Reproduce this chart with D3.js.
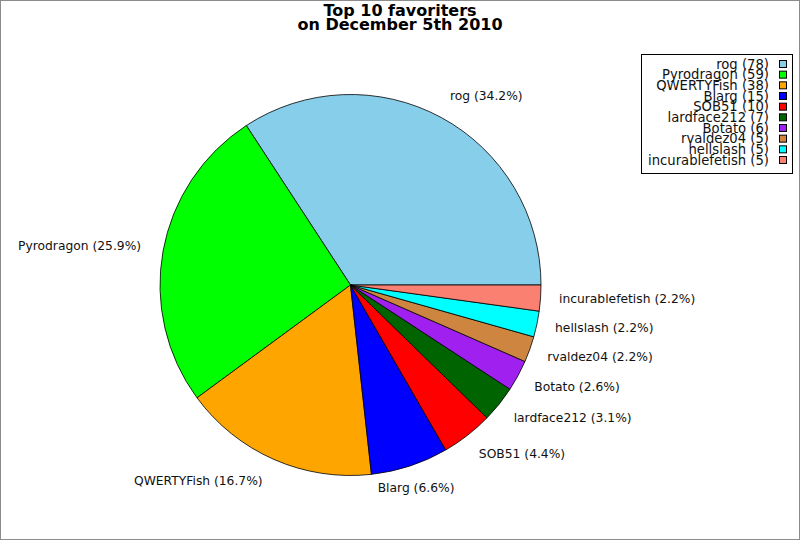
<!DOCTYPE html>
<html>
<head>
<meta charset="utf-8">
<script src="https://cdn.jsdelivr.net/npm/d3@7"></script>
<style>
  body { margin: 0; background: #fff; }
  text { font-family: "DejaVu Sans", sans-serif; }
</style>
</head>
<body>
<div id="container"></div>
<script>
/* DATA */
const names = ["rog", "Pyrodragon", "QWERTYFish", "Blarg", "SOB51", "lardface212", "Botato", "rvaldez04", "hellslash", "incurablefetish"];
const favs = [78, 59, 38, 15, 10, 7, 6, 5, 5, 5];
const colors = ["#87ceeb", "#00ff00", "#ffa500", "#0000ff", "#ff0000", "#006400", "#a020f0", "#cd853f", "#00ffff", "#fa8072"];
const titleLines = ["Top 10 favoriters", "on December 5th 2010"];

/* CONSTANTS */
const width = 800, height = 540;
const cx = 350.5, cy = 285, radius = 190.5;
const labelR = 209, fontH = 12.4;

const data = names.map((n, i) => ({name: n, value: favs[i], color: colors[i]}));
const total = d3.sum(favs);

const svg = d3.select("#container")
  .append("svg")
  .attr("width", width)
  .attr("height", height);

// frame
svg.append("rect")
  .attr("x", 0.5).attr("y", 0.5)
  .attr("width", width - 1).attr("height", height - 1)
  .attr("fill", "#fff")
  .attr("stroke", "#8c8c8c");

// TITLE
svg.append("g")
  .selectAll("text")
  .data(titleLines)
  .join("text")
  .attr("x", 400)
  .attr("y", (d, i) => 16 + i * 14)
  .attr("text-anchor", "middle")
  .attr("font-size", 16)
  .attr("font-weight", "bold")
  .text(d => d);

// PIE - starts at 3 o'clock and runs counterclockwise
const pie = d3.pie()
  .sort(null)
  .value(d => d.value)
  .startAngle(Math.PI / 2)
  .endAngle(Math.PI / 2 - 2 * Math.PI);

const arcs = pie(data);
const arcGen = d3.arc().innerRadius(0).outerRadius(radius);

const g = svg.append("g").attr("transform", `translate(${cx},${cy})`);

g.selectAll("path")
  .data(arcs)
  .join("path")
  .attr("d", arcGen)
  .attr("fill", d => d.data.color)
  .attr("stroke", "#000")
  .attr("stroke-width", 0.8)
  .attr("stroke-linejoin", "round");

// LABELS outside the pie
const labels = svg.append("g")
  .selectAll("text")
  .data(arcs)
  .join("text")
  .attr("font-size", 12.3)
  .attr("fill", "#111")
  .attr("dominant-baseline", "central")
  .text(d => `${d.data.name} (${(d.data.value / total * 100).toFixed(1)}%)`);

labels.each(function(d) {
  const a = Math.PI / 2 - (d.startAngle + d.endAngle) / 2; // math angle
  const c = Math.cos(a), s = Math.sin(a);
  const w = this.getComputedTextLength();
  const xt = cx + labelR * c, yt = cy - labelR * s;
  const dx = Math.max(0, Math.min(1.03, 0.5 - (c - 0.31) / 0.3));
  d3.select(this)
    .attr("x", xt - dx * w)
    .attr("y", yt - (0.05 + 0.45 * s) * fontH);
});

// LEGEND
const legX0 = 641, legY0 = 54, legW = 151, legH = 119;
const legend = svg.append("g");
legend.append("rect")
  .attr("x", legX0 + 0.5).attr("y", legY0 + 0.5)
  .attr("width", legW).attr("height", legH)
  .attr("fill", "#fff")
  .attr("stroke", "#000");

const rowY = d3.scalePoint()
  .domain(names)
  .range([legY0 + 10, legY0 + 106]);

const rows = legend.selectAll("g.row")
  .data(data)
  .join("g")
  .attr("class", "row")
  .attr("transform", d => `translate(0,${rowY(d.name)})`);

rows.append("text")
  .attr("x", 769)
  .attr("text-anchor", "end")
  .attr("dominant-baseline", "central")
  .attr("font-size", 13.2)
  .attr("fill", "#111")
  .text(d => `${d.name} (${d.value})`);

rows.append("rect")
  .attr("x", 779.5).attr("y", -3.5)
  .attr("width", 7).attr("height", 7)
  .attr("fill", d => d.color)
  .attr("stroke", "#000");
</script>
</body>
</html>
